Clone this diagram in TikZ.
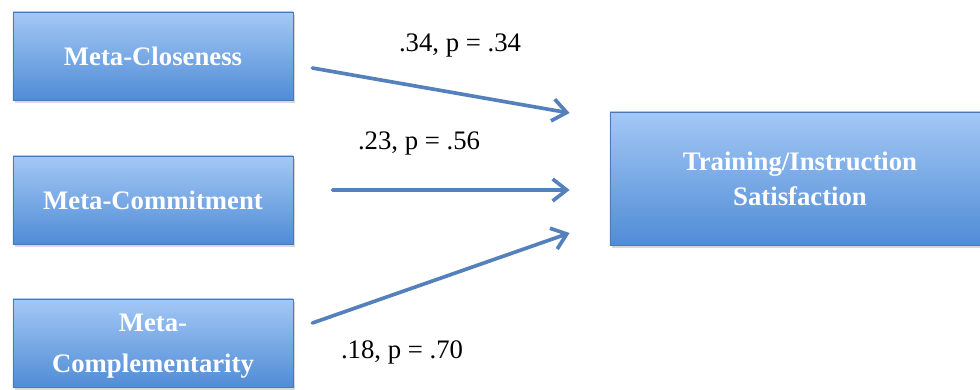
\documentclass[tikz,border=0pt]{standalone}
\usepackage{fontspec}
\setmainfont{Liberation Serif}
\usetikzlibrary{positioning,arrows.meta,calc,shadows}
\definecolor{boxtop}{RGB}{163,200,245}
\definecolor{boxbot}{RGB}{80,140,214}
\definecolor{boxedge}{RGB}{72,122,186}
\definecolor{linkblue}{RGB}{84,128,188}
\tikzset{
  factor/.style={draw=boxedge, line width=0.5pt, top color=boxtop, bottom color=boxbot,
    minimum width=7cm, minimum height=2.2cm, align=center, text=white,
    font=\bfseries\fontsize{19}{25}\selectfont,
    drop shadow={shadow xshift=0.4mm, shadow yshift=-0.8mm, opacity=0.3}},
  link/.style={draw=linkblue, line width=2.6pt, line cap=round,
    -{Straight Barb[length=3.5mm,width=5.5mm]}},
  coef/.style={font=\fontsize{19}{22}\selectfont}
}
\begin{document}
\begin{tikzpicture}[x=0.025cm, y=-0.025cm]
\useasboundingbox (0,0) rectangle (980,389);
\fill[white] (0,0) rectangle (980,389);
\clip (0,0) rectangle (980,389);
% predictors
\node[factor] (clos) at (153,56) {Meta-Closeness};
\node[factor] (comm) at (153,200) {Meta-Commitment};
\node[factor, font=\bfseries\fontsize{19}{29}\selectfont, text depth=0pt] (compl) at (153,343) {Meta-\\Complementarity};
% outcome
\node[factor, minimum width=9.5cm, minimum height=3.33cm] (sat) at (800,178.5) {Training/Instruction\\Satisfaction};
% arrow ends
\coordinate (closA) at ($(clos.east)+(19,12)$);
\coordinate (commA) at ($(comm.east)+(39,-10)$);
\coordinate (complA) at ($(compl.east)+(19,-20)$);
\coordinate (closB) at ($(sat.west)+(-40,-65.5)$);
\coordinate (commB) at ($(sat.west)+(-40,11.5)$);
\coordinate (complB) at ($(sat.west)+(-40,54.5)$);
\draw[link] (closA) -- (closB);
\draw[link] (commA) -- (commB);
\draw[link] (complA) -- (complB);
% coefficients
\node[coef] (closC) at (460,45) {.34, p = .34};
\node[coef] (commC) at (419,143) {.23, p = .56};
\node[coef] (complC) at (402,352) {.18, p = .70};
\end{tikzpicture}
\end{document}
